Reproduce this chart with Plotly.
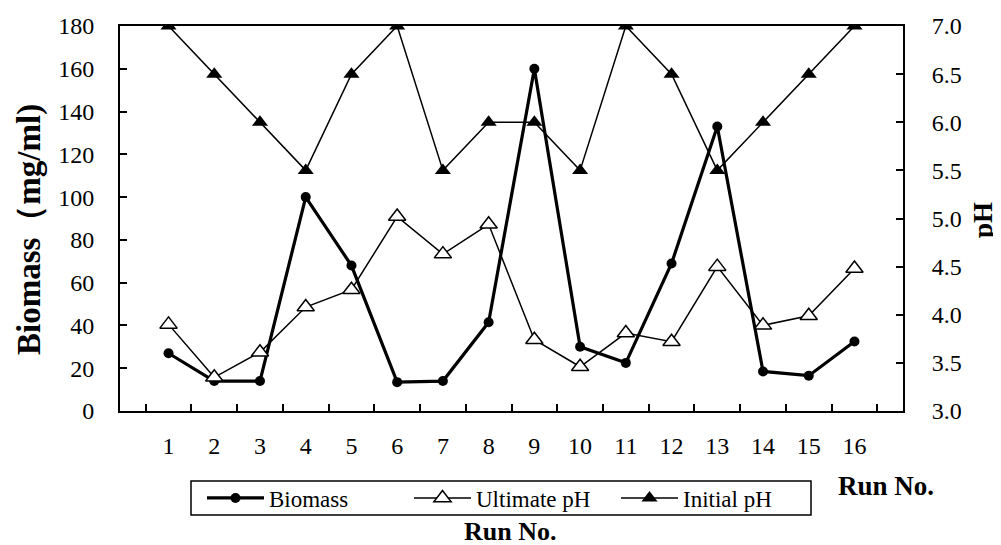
import plotly.graph_objects as go

runs = [str(i) for i in range(1, 17)]
biomass = [27, 14, 14, 100, 68, 13.5, 14, 41.5, 160, 30, 22.5, 69, 133, 18.5, 16.5, 32.5]
ultimate_ph = [3.90, 3.35, 3.61, 4.08, 4.26, 5.02, 4.63, 4.94, 3.74, 3.46, 3.81, 3.72, 4.50, 3.89, 3.99, 4.48]
initial_ph = [7.0, 6.5, 6.0, 5.5, 6.5, 7.0, 5.5, 6.0, 6.0, 5.5, 7.0, 6.5, 5.5, 6.0, 6.5, 7.0]

FONT = "'Liberation Serif', 'Times New Roman', serif"
W, H = 1001, 545
L, R, T, B = 112, 106, 18, 142
pw, ph = W - L - R, H - T - B

def px_x(x):
    return (x - L) / pw

def px_y(y):
    return (H - B - y) / ph

fig = go.Figure()
fig.add_trace(go.Scatter(
    x=runs, y=biomass, name="Biomass", mode="lines+markers",
    line=dict(color="black", width=3.2),
    marker=dict(symbol="circle", size=10, color="black"),
    yaxis="y"))
fig.add_trace(go.Scatter(
    x=runs, y=ultimate_ph, name="Ultimate pH", mode="lines+markers",
    line=dict(color="black", width=1.5),
    marker=dict(symbol="triangle-up", size=15, color="white",
                line=dict(color="black", width=1.5)),
    yaxis="y2"))
fig.add_trace(go.Scatter(
    x=runs, y=initial_ph, name="Initial pH", mode="lines+markers",
    line=dict(color="black", width=1.5),
    marker=dict(symbol="triangle-up", size=14, color="black"),
    yaxis="y2"))

fig.update_layout(
    width=W, height=H,
    margin=dict(l=L, r=R, t=T, b=B, autoexpand=False),
    paper_bgcolor="white", plot_bgcolor="white",
    font=dict(family=FONT, size=24, color="black"),
    showlegend=True,
    legend=dict(
        orientation="h", x=px_x(194), xanchor="left",
        y=px_y(490), yanchor="middle",
        borderwidth=0, bgcolor="rgba(0,0,0,0)",
        font=dict(family=FONT, size=23, color="black"),
        itemwidth=57, entrywidth=135, entrywidthmode="pixels",
    ),
    shapes=[
        dict(type="rect", xref="paper", yref="paper",
             x0=px_x(183), x1=px_x(803), y0=px_y(473), y1=px_y(507),
             line=dict(color="black", width=1.5), layer="above"),
    ],
    xaxis=dict(
        type="category", showgrid=False, zeroline=False,
        showline=True, linecolor="black", linewidth=2, mirror=True,
        ticks="inside", ticklen=7, tickwidth=1.5, tickcolor="black",
        tickson="boundaries", ticklabelstandoff=12,
        tickfont=dict(family=FONT, size=24, color="black"),
    ),
    yaxis=dict(
        range=[0, 180], dtick=20, showgrid=False, zeroline=False,
        showline=True, linecolor="black", linewidth=2,
        ticks="inside", ticklen=7, tickwidth=1.5, tickcolor="black",
        ticklabelstandoff=19,
        tickfont=dict(family=FONT, size=24, color="black"),
    ),
    yaxis2=dict(
        range=[3.0, 7.0], dtick=0.5, tickformat=".1f",
        overlaying="y", side="right", showgrid=False, zeroline=False,
        showline=True, linecolor="black", linewidth=2,
        ticks="inside", ticklen=7, tickwidth=1.5, tickcolor="black",
        ticklabelstandoff=22,
        tickfont=dict(family=FONT, size=24, color="black"),
    ),
    annotations=[
        dict(text="<b>Biomass（mg/ml)</b>", xref="paper", yref="paper",
             x=px_x(22), y=px_y(222), textangle=-90, showarrow=False,
             xanchor="center", yanchor="middle",
             font=dict(family=FONT, size=33, color="black")),
        dict(text="<b>pH</b>", xref="paper", yref="paper",
             x=px_x(975), y=px_y(212), textangle=-90, showarrow=False,
             xanchor="center", yanchor="middle",
             font=dict(family=FONT, size=27, color="black")),
        dict(text="<b>Run No.</b>", xref="paper", yref="paper",
             x=px_x(878), y=px_y(478), showarrow=False,
             xanchor="center", yanchor="middle",
             font=dict(family=FONT, size=27, color="black")),
        dict(text="<b>Run No.</b>", xref="paper", yref="paper",
             x=px_x(502), y=px_y(523), showarrow=False,
             xanchor="center", yanchor="middle",
             font=dict(family=FONT, size=26, color="black")),
    ],
)

fig.write_html("out.html")
